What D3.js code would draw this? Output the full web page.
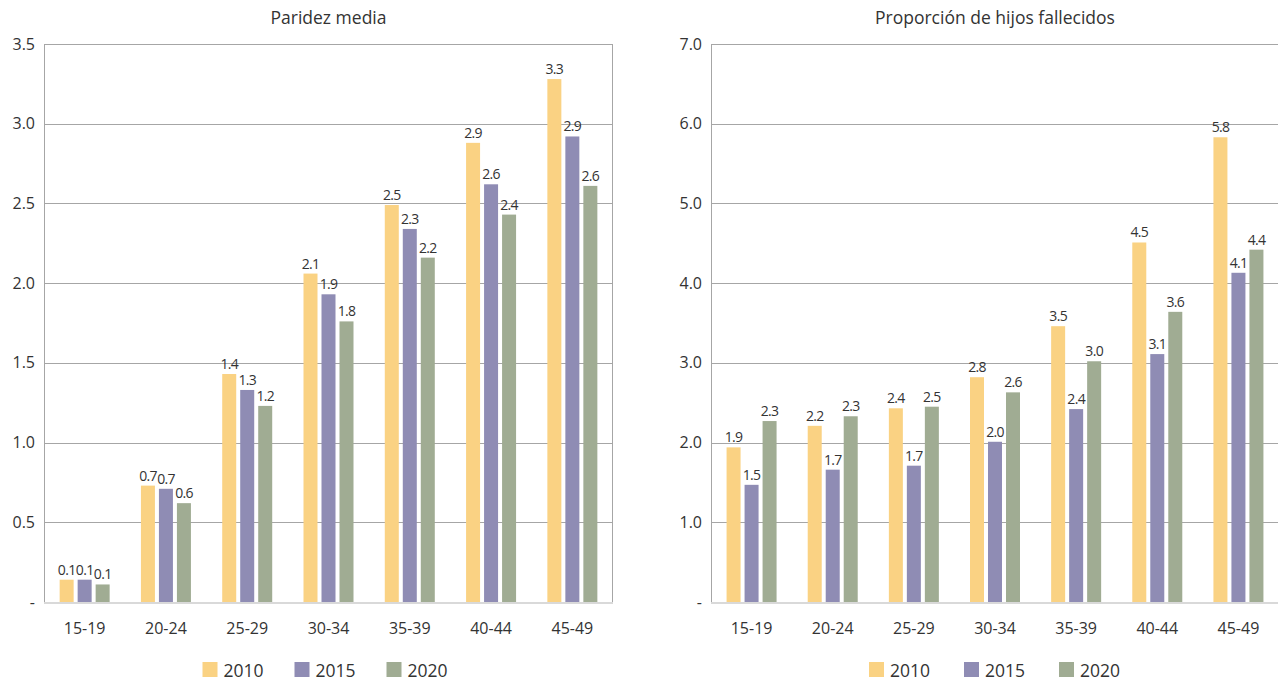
<!DOCTYPE html>
<html>
<head>
<meta charset="utf-8">
<script src="https://cdn.jsdelivr.net/npm/d3@7"></script>
<style>
  html, body { margin: 0; padding: 0; background: #fff; }
  svg text { font-family: "Open Sans", "Noto Sans", sans-serif; fill: #333; }
</style>
</head>
<body>
<svg id="chart" width="1278" height="681"></svg>
<script>
const categories = ["15-19", "20-24", "25-29", "30-34", "35-39", "40-44", "45-49"];
const years = ["2010", "2015", "2020"];
const colors = ["#FAD283", "#8F8CB4", "#A0AC93"];

// Paridez media
const parity2010 = [0.14, 0.73, 1.43, 2.06, 2.49, 2.88, 3.28];
const parity2015 = [0.14, 0.71, 1.33, 1.93, 2.34, 2.62, 2.92];
const parity2020 = [0.11, 0.62, 1.23, 1.76, 2.16, 2.43, 2.61];
const parityTicks = [0, 0.5, 1.0, 1.5, 2.0, 2.5, 3.0, 3.5];

// Proporción de hijos fallecidos
const deaths2010 = [1.94, 2.21, 2.43, 2.82, 3.46, 4.51, 5.83];
const deaths2015 = [1.47, 1.66, 1.71, 2.01, 2.42, 3.11, 4.13];
const deaths2020 = [2.27, 2.33, 2.45, 2.63, 3.02, 3.64, 4.42];
const deathsTicks = [0, 1, 2, 3, 4, 5, 6, 7];

const svg = d3.select("#chart");

function drawPanel(opts) {
  const { title, series, ticks, yMax, left, right, top, bottom, legendStep } = opts;
  const g = svg.append("g");
  const x0 = d3.scaleBand().domain(categories).range([left, right]).padding(0);
  const groupW = 50;
  const x1 = d3.scaleBand().domain(years).range([0, groupW]).paddingInner(4 / 18).paddingOuter(0);
  const y = d3.scaleLinear().domain([0, yMax]).range([bottom, top]);

  // gridlines
  g.append("g").selectAll("line").data(ticks.filter(t => t > 0)).join("line")
    .attr("x1", left).attr("x2", right)
    .attr("y1", d => Math.round(y(d)) + 0.5).attr("y2", d => Math.round(y(d)) + 0.5)
    .attr("stroke", "#a6a6a6").attr("stroke-width", 1);

  // frame verticals
  g.append("line").attr("x1", left + 0.5).attr("x2", left + 0.5)
    .attr("y1", top).attr("y2", bottom).attr("stroke", "#a6a6a6");
  g.append("line").attr("x1", right - 0.5).attr("x2", right - 0.5)
    .attr("y1", top).attr("y2", bottom).attr("stroke", "#a6a6a6");

  // y axis labels
  const yAxis = d3.axisLeft(y).tickValues(ticks)
    .tickFormat(d => d === 0 ? "-" : d3.format(".1f")(d))
    .tickSize(0).tickPadding(9);
  const ya = g.append("g").attr("transform", `translate(${left},0)`).call(yAxis);
  ya.select(".domain").remove();
  ya.selectAll("text").attr("font-size", 16).attr("fill", "#333")
    .style("font-family", '"Open Sans", sans-serif');

  // bars
  series.forEach((vals, si) => {
    const yr = years[si];
    const grp = g.append("g");
    grp.selectAll("rect").data(vals).join("rect")
      .attr("x", (d, i) => x0(categories[i]) + (x0.bandwidth() - groupW) / 2 + x1(yr))
      .attr("width", x1.bandwidth())
      .attr("y", d => y(d))
      .attr("height", d => bottom - y(d))
      .attr("fill", colors[si]);
    grp.selectAll("text").data(vals).join("text")
      .attr("x", (d, i) => x0(categories[i]) + (x0.bandwidth() - groupW) / 2 + x1(yr) + x1.bandwidth() / 2)
      .attr("y", d => y(d) - 5)
      .attr("text-anchor", "middle")
      .attr("font-size", 14)
      .attr("letter-spacing", -0.7)
      .text(d => d3.format(".1f")(d));
  });

  // bottom axis line
  g.append("line").attr("x1", left).attr("x2", right)
    .attr("y1", bottom + 1).attr("y2", bottom + 1)
    .attr("stroke", "#d9d9d9").attr("stroke-width", 2);

  // x axis labels
  const xAxis = d3.axisBottom(x0).tickSize(0).tickPadding(21);
  const xa = g.append("g").attr("transform", `translate(0,${bottom})`).call(xAxis);
  xa.select(".domain").remove();
  xa.selectAll("text").attr("font-size", 16).attr("fill", "#333")
    .style("font-family", '"Open Sans", sans-serif');

  // title
  g.append("text").attr("x", (left + right) / 2).attr("y", 24)
    .attr("text-anchor", "middle").attr("font-size", 17.5).text(title);

  // legend
  const center = (left + right) / 2;
  years.forEach((yr, i) => {
    const it = g.append("g").attr("transform", `translate(${center - 126 + i * legendStep},0)`);
    it.append("rect").attr("x", 0).attr("y", 662).attr("width", 15).attr("height", 15).attr("fill", colors[i]);
    it.append("text").attr("x", 21).attr("y", 677).attr("font-size", 17.5).text(yr);
  });
}

drawPanel({
  title: "Paridez media",
  series: [parity2010, parity2015, parity2020],
  ticks: parityTicks, yMax: 3.5,
  left: 44, right: 613, top: 44, bottom: 602, legendStep: 92
});

drawPanel({
  title: "Proporción de hijos fallecidos",
  series: [deaths2010, deaths2015, deaths2020],
  ticks: deathsTicks, yMax: 7,
  left: 711, right: 1279, top: 44, bottom: 602, legendStep: 95
});
</script>
</body>
</html>
